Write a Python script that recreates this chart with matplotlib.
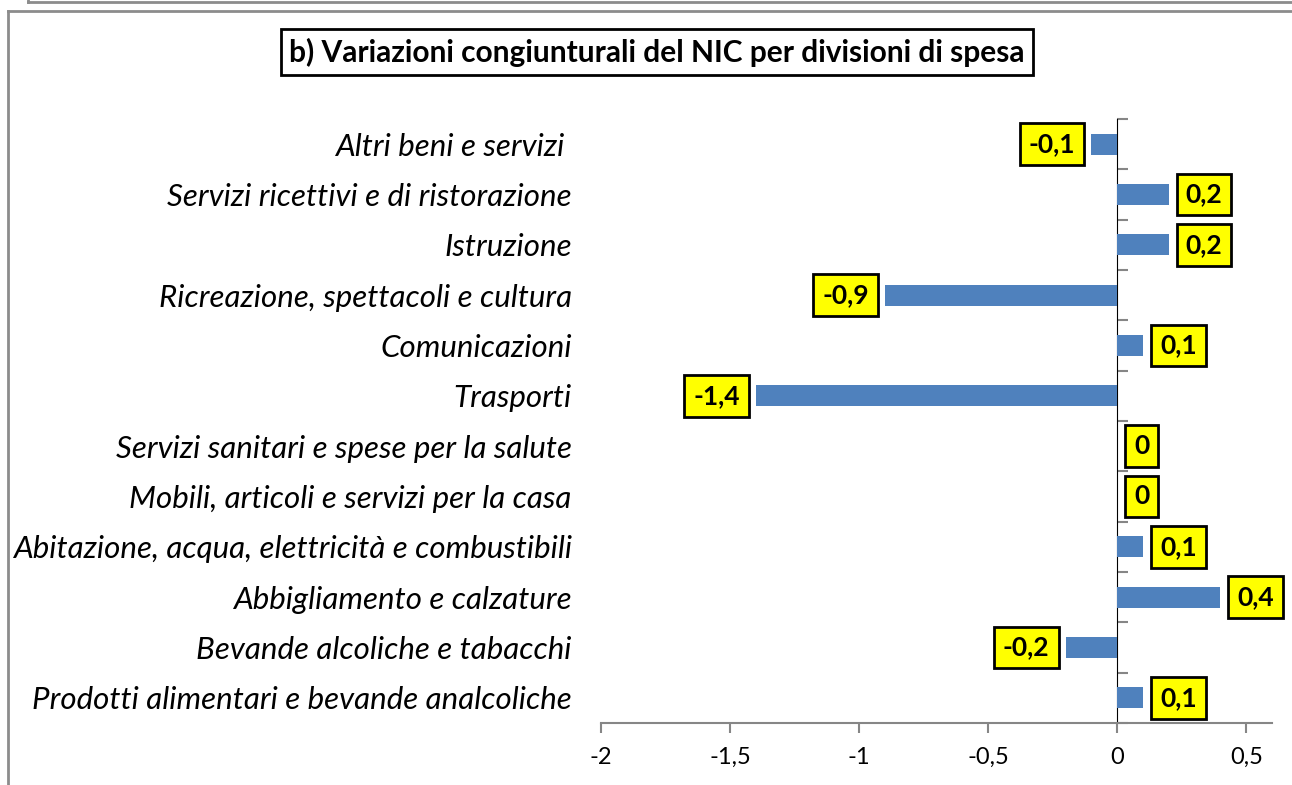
import matplotlib
matplotlib.use("Agg")
import matplotlib.pyplot as plt
from matplotlib.lines import Line2D

categories = [
    "Prodotti alimentari e bevande analcoliche",
    "Bevande alcoliche e tabacchi",
    "Abbigliamento e calzature",
    "Abitazione, acqua, elettricità e combustibili",
    "Mobili, articoli e servizi per la casa",
    "Servizi sanitari e spese per la salute",
    "Trasporti",
    "Comunicazioni",
    "Ricreazione, spettacoli e cultura",
    "Istruzione",
    "Servizi ricettivi e di ristorazione",
    "Altri beni e servizi ",
]
values = [0.1, -0.2, 0.4, 0.1, 0, 0, -1.4, 0.1, -0.9, 0.2, 0.2, -0.1]
xticks = [-2, -1.5, -1, -0.5, 0, 0.5]
xticklabels = ["-2", "-1,5", "-1", "-0,5", "0", "0,5"]
title = "b) Variazioni congiunturali del NIC per divisioni di spesa"

FONT = ["Lato", "DejaVu Sans"]
plt.rcParams["font.family"] = FONT

W, H = 1292, 785
fig = plt.figure(figsize=(W / 100, H / 100), dpi=100)
fig.patch.set_facecolor("white")

# outer frames
gray = "#8c8c8c"
def fline(xs, ys, lw=2.0, color=gray):
    fig.add_artist(Line2D([x / W for x in xs], [1 - y / H for y in ys],
                          transform=fig.transFigure, color=color, lw=lw))
fline([28, W], [2, 2])
fline([28, 28], [0, 2])
fline([8, W], [11, 11])
fline([8, 8], [11, H])

ax = fig.add_axes([601 / W, 1 - 723 / H, (1272 - 601) / W, (723 - 119) / H])
ypos = list(range(len(categories)))
ax.barh(ypos, values, height=0.42, color="#4F81BD")
ax.set_xlim(-2, 0.6)
ax.set_ylim(-0.5, len(categories) - 0.5)

axis_color = "#868686"
for s in ["top", "right", "left"]:
    ax.spines[s].set_visible(False)
ax.spines["bottom"].set_color(axis_color)
ax.spines["bottom"].set_linewidth(1.5)

ax.set_xticks(xticks)
ax.set_xticklabels(xticklabels, fontsize=17)
ax.tick_params(axis="x", direction="out", length=7, width=1.5, color=axis_color, pad=10)

ax.set_yticks(ypos)
ax.set_yticklabels(categories, fontsize=22.5, style="italic")
ax.tick_params(axis="y", length=0, pad=21)

# vertical category axis at x = 0
sec = ax.secondary_yaxis(2.0 / 2.6)
sec.set_yticks([b - 0.5 for b in range(len(categories) + 1)])
sec.set_yticklabels([])
sec.tick_params(axis="y", direction="out", length=8, width=1.5, color=axis_color)
sec.spines["left"].set_color(axis_color)
sec.spines["left"].set_linewidth(1.5)

# data labels
lab_fs = 19
pad_frac = 0.34
pad_px = pad_frac * lab_fs * 100 / 72
for y, v in zip(ypos, values):
    txt = f"{v:g}".replace(".", ",")
    if v < 0:
        off, ha = -(7 + pad_px), "right"
    else:
        off, ha = 8 + pad_px, "left"
    ax.annotate(txt, xy=(v, y), xytext=(off, 0), textcoords="offset pixels",
                ha=ha, va="center", fontsize=lab_fs, fontweight="bold",
                bbox=dict(boxstyle=f"square,pad={pad_frac}", facecolor="#FFFF00",
                          edgecolor="black", linewidth=2))

fig.text(657 / W, 1 - 52 / H, title, ha="center", va="center",
         fontsize=21.5, fontweight="bold",
         bbox=dict(boxstyle="square,pad=0.28", facecolor="white",
                   edgecolor="black", linewidth=2))

fig.savefig("out.png", dpi=100)
